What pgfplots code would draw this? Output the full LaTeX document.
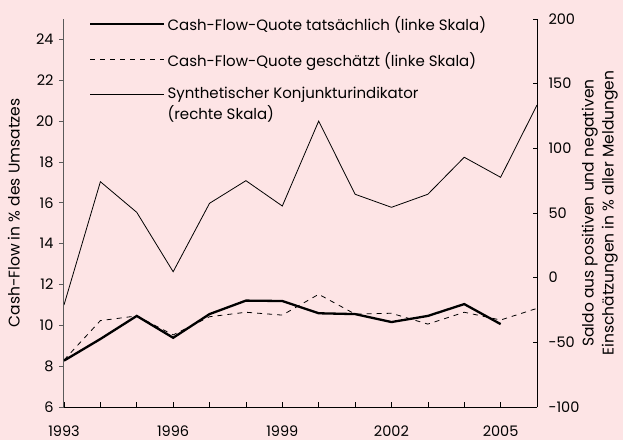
\documentclass[border=0pt]{standalone}
\usepackage{fontspec}
\setmainfont{Poppins}
\usepackage{pgfplots}
\pgfplotsset{compat=1.18}
\definecolor{bg}{RGB}{253,228,229}
\definecolor{axgray}{RGB}{90,90,90}

\begin{document}
\begin{tikzpicture}
\fill[bg] (-64pt,-33pt) rectangle (559pt,407pt);
\begin{axis}[
  at={(0,0)}, anchor=south west, scale only axis,
  width=473pt, height=388pt,
  xmin=1993, xmax=2006, ymin=6, ymax=25,
  axis x line*=bottom, axis y line*=left,
  xtick={1993,...,2006},
  xticklabels={1993,,,1996,,,1999,,,2002,,,2005,},
  ytick={6,8,...,24},
  tick align=inside, major tick length=5pt,
  y tick style={xshift=-5pt, axgray, line width=0.8pt},
  x tick style={black, line width=0.6pt},
  y axis line style={axgray, line width=1pt},
  x axis line style={black, line width=0.8pt},
  tick label style={font=\fontsize{14.5}{16}\selectfont},
  /pgf/number format/assume math mode=true,
  yticklabel style={xshift=-7pt},
  xticklabel style={yshift=-15pt},
  ylabel={Cash-Flow in \% des Umsatzes},
  every axis y label/.style={at={(axis description cs:-0.106,0.5)}, rotate=90, anchor=center, font=\fontsize{15.5}{18}\selectfont},
  legend style={at={(axis description cs:0.053,1.012)}, anchor=north west,
    draw=none, fill=none, inner sep=0pt, row sep=16pt,
    font=\fontsize{15}{21}\selectfont,
    cells={align=left, anchor=west, inner sep=2pt},
    /tikz/every even column/.style={column sep=0pt}},
  legend image code/.code={\draw[#1] (0pt,0pt)--(74pt,0pt);},
]
\addplot[black, line width=2.3pt] coordinates {
(1993,8.27)(1994,9.33)(1995,10.46)(1996,9.39)(1997,10.55)(1998,11.21)(1999,11.19)
(2000,10.59)(2001,10.55)(2002,10.16)(2003,10.46)(2004,11.04)(2005,10.06)};
\addlegendentry{Cash-Flow-Quote tatsächlich (linke Skala)}
\addplot[black, line width=0.8pt, dash pattern=on 5pt off 5pt] coordinates {
(1993,8.3)(1994,10.23)(1995,10.46)(1996,9.53)(1997,10.42)(1998,10.64)(1999,10.5)
(2000,11.52)(2001,10.55)(2002,10.59)(2003,10.06)(2004,10.64)(2005,10.26)(2006,10.83)};
\addlegendentry{Cash-Flow-Quote geschätzt (linke Skala)}
\addlegendimage{legend image code/.code={\draw[black, line width=0.8pt] (0pt,10.5pt)--(74pt,10.5pt);}}
\addlegendentry{Synthetischer Konjunkturindikator\\(rechte Skala)}
\end{axis}
\begin{axis}[
  at={(0,0)}, anchor=south west, scale only axis,
  width=473pt, height=388pt,
  xmin=1993, xmax=2006, ymin=-100, ymax=200,
  axis x line=none, axis y line*=right,
  ytick={-100,-50,...,200},
  yticklabels={-100,-50,0,50,100,150,200},
  tick align=inside, major tick length=4pt,
  y tick style={black, line width=0.8pt},
  y axis line style={black, line width=0.8pt},
  tick label style={font=\fontsize{14.5}{16}\selectfont},
  yticklabel style={xshift=8pt},
  ylabel={Saldo aus positiven und negativen\\Einschätzungen in \% aller Meldungen},
  every axis y label/.style={at={(axis description cs:1.133,0.5)}, rotate=90, anchor=center, align=center, font=\fontsize{15.5}{20}\selectfont},
]
\addplot[black, line width=0.8pt] coordinates {
(1993,-21.1)(1994,74.2)(1995,50.5)(1996,4.6)(1997,57.5)(1998,75.0)(1999,55.4)
(2000,121.1)(2001,64.5)(2002,54.4)(2003,64.5)(2004,93.1)(2005,77.6)(2006,133.5)};
\end{axis}
\end{tikzpicture}
\end{document}
